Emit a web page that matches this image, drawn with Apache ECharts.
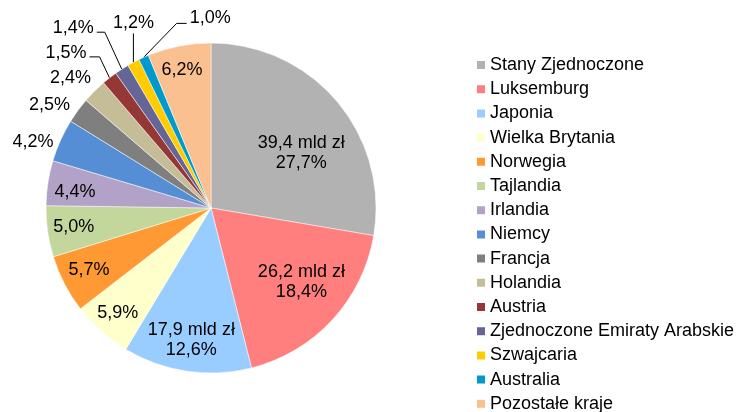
<!DOCTYPE html>
<html>
<head>
<meta charset="utf-8">
<script src="https://cdn.jsdelivr.net/npm/echarts@6/dist/echarts.min.js"></script>
<style>
html, body { margin: 0; padding: 0; background: #fff; }
#chart { width: 741px; height: 412px; }
</style>
</head>
<body>
<div id="chart"></div>
<script>
// data
var countries = ["Stany Zjednoczone", "Luksemburg", "Japonia", "Wielka Brytania", "Norwegia",
    "Tajlandia", "Irlandia", "Niemcy", "Francja", "Holandia", "Austria",
    "Zjednoczone Emiraty Arabskie", "Szwajcaria", "Australia", "Pozostałe kraje"];
var shares = [27.7, 18.4, 12.6, 5.9, 5.7, 5.0, 4.4, 4.2, 2.5, 2.4, 1.5, 1.4, 1.2, 1.0, 6.2];
var amounts = [39.4, 26.2, 17.9];   // mld zł, only the three biggest are labelled

var colors = ["#B2B2B2", "#FF7F7F", "#99CCFF", "#FFFFCC", "#FF9933", "#C3D69B", "#B3A2C7",
    "#558ED5", "#7F7F7F", "#C4BD97", "#953735", "#656597", "#FFCC00", "#0099CC", "#FAC090"];

// pie geometry (px)
var CX = 211, CY = 208, R = 165;
// label spot: [radius factor, angle shift in degrees]
var labelSpot = [[0.64, 8.8], [0.71, -3.2], [0.81, 0], [0.85, 0], [0.83, 0.5], [0.84, 0.3],
    [0.83, -2], [1.15, -3.9], [1.16, -3.8], [1.16, -2.3], null, null, null, [0, 0], [0.855, -0.7]];
// leader lines: [elbow dx, elbow dy, horizontal run]
var leaders = { 10: [-10, -21, -10], 11: [-17, -37, -8], 12: [0, -29, 0], 13: [33, -34, 10] };

function fmt(v) {
    return v.toFixed(1).replace('.', ',');
}

var total = shares.reduce(function (a, b) { return a + b; }, 0);
var midAngle = [];
var cum = 0;
for (var i = 0; i < shares.length; i++) {
    midAngle.push(2 * Math.PI * (cum + shares[i] / 2) / total);
    cum += shares[i];
}

var pieData = [];
for (var i = 0; i < countries.length; i++) {
    var isLeader = leaders.hasOwnProperty(i);
    pieData.push({
        name: countries[i],
        value: shares[i],
        itemStyle: { color: colors[i] },
        label: { position: isLeader ? 'outside' : 'inside' },
        labelLine: { show: isLeader }
    });
}

var chart = echarts.init(document.getElementById('chart'));
chart.setOption({
    animation: false,
    textStyle: { fontFamily: 'Liberation Sans, Arial, sans-serif' },
    legend: {
        orient: 'vertical',
        left: 475,
        top: 56,
        height: 380,
        width: 266,
        padding: 0,
        itemWidth: 10,
        itemHeight: 10,
        itemGap: 6.2,
        icon: 'rect',
        selectedMode: false,
        textStyle: { fontSize: 18, color: '#000', lineHeight: 16, padding: [0, 0, 0, -1] },
        data: countries
    },
    series: [{
        type: 'pie',
        center: [CX, CY],
        radius: R,
        startAngle: 90,
        clockwise: true,
        avoidLabelOverlap: false,
        silent: true,
        itemStyle: { borderColor: '#fff', borderWidth: 0.5 },
        label: {
            color: '#000',
            fontSize: 18,
            lineHeight: 20,
            textBorderWidth: 0,
            formatter: function (p) {
                var s = fmt(shares[p.dataIndex]) + '%';
                if (amounts[p.dataIndex] != null) {
                    return fmt(amounts[p.dataIndex]) + ' mld zł\n' + s;
                }
                return s;
            }
        },
        labelLine: { lineStyle: { color: '#000', width: 1 }, length: 10, length2: 10 },
        labelLayout: function (p) {
            var i = p.dataIndex;
            var a = midAngle[i];
            if (leaders.hasOwnProperty(i)) {
                var L = leaders[i];
                var ex = CX + R * Math.sin(a), ey = CY - R * Math.cos(a);
                var bx = ex + L[0], by = ey + L[1];
                var hx = bx + L[2];
                var out = {
                    labelLinePoints: [[ex, ey], [bx, by], [hx, by]],
                    verticalAlign: 'middle'
                };
                if (L[2] < 0) { out.x = hx - 3; out.y = by - 4; out.align = 'right'; }
                else if (L[2] > 0) { out.x = hx + 3; out.y = by - 5; out.align = 'left'; }
                else { out.x = hx; out.y = by - 10; out.align = 'center'; }
                return out;
            }
            var sp = labelSpot[i];
            var b = a + sp[1] * Math.PI / 180;
            return {
                x: CX + sp[0] * R * Math.sin(b),
                y: CY - sp[0] * R * Math.cos(b),
                align: 'center',
                verticalAlign: 'middle'
            };
        },
        data: pieData
    }]
});
</script>
</body>
</html>
